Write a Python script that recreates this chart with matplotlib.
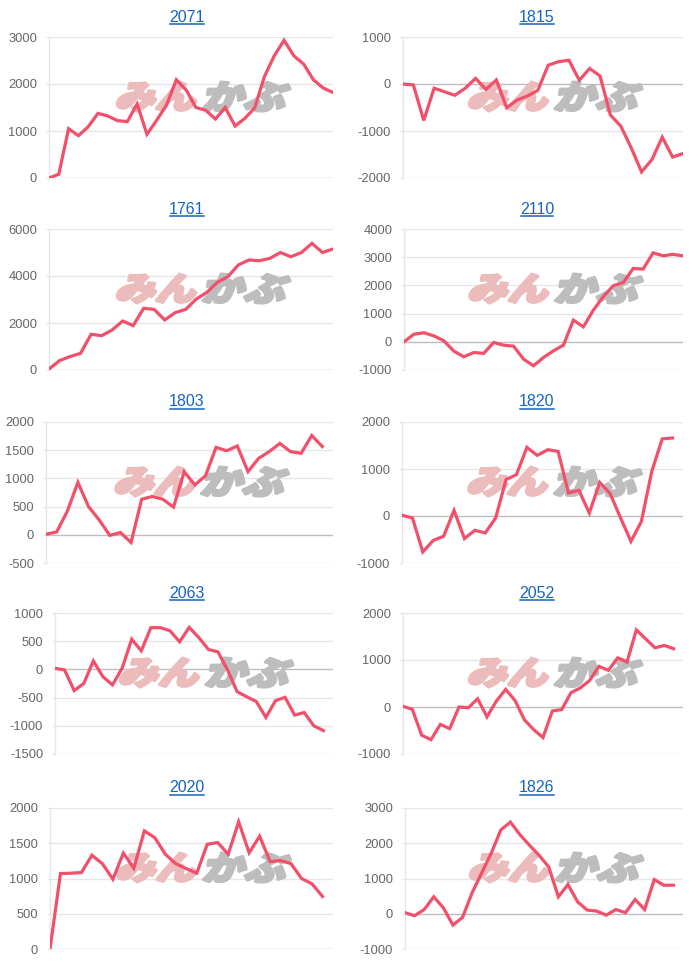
import matplotlib
matplotlib.use("Agg")
import matplotlib.pyplot as plt
from matplotlib.textpath import TextPath
from matplotlib.patches import PathPatch
from matplotlib.font_manager import FontProperties
from matplotlib.transforms import Affine2D
from matplotlib.lines import Line2D

plt.rcParams['font.family'] = ['Liberation Sans', 'DejaVu Sans']

titles = ["2071", "1815", "1761", "2110", "1803", "1820", "2063", "2052", "2020", "1826"]

# number of x slots on each chart's category axis
slots = [30, 28, 28, 29, 28, 28, 30, 31, 28, 30]

s2071 = [0, 80, 1050, 900, 1090, 1375, 1320, 1220, 1200, 1575, 930, 1230, 1550, 2090, 1875,
         1500, 1440, 1255, 1500, 1105, 1270, 1490, 2160, 2600, 2930, 2600, 2425, 2090, 1915, 1820]
s1815 = [0, -20, -775, -90, -165, -240, -90, 120, -115, 85, -505, -340, -255, -135, 400,
         475, 505, 80, 330, 170, -660, -895, -1355, -1870, -1610, -1130, -1555, -1480]
s1761 = [40, 400, 570, 710, 1520, 1460, 1700, 2085, 1890, 2625, 2580, 2130, 2440, 2580, 3020,
         3300, 3730, 3970, 4470, 4680, 4650, 4750, 5000, 4820, 5000, 5390, 5000, 5150]
s2110 = [0, 270, 320, 210, 35, -330, -530, -380, -410, -25, -120, -155, -615, -850, -555,
         -320, -120, 770, 530, 1120, 1600, 1990, 2100, 2600, 2580, 3155, 3050, 3100, 3050]
s1803 = [10, 50, 415, 930, 500, 265, -10, 40, -135, 630, 680, 630, 490, 1120, 885,
         1045, 1550, 1490, 1575, 1120, 1355, 1475, 1620, 1475, 1445, 1760, 1565]
s1820 = [15, -40, -765, -520, -430, 120, -480, -305, -360, -40, 775, 880, 1460, 1290, 1410,
         1375, 490, 545, 65, 715, 475, -40, -540, -115, 950, 1640, 1660]
s2063 = [20, -10, -375, -250, 150, -130, -275, 20, 535, 330, 740, 740, 685, 490, 745,
         565, 355, 310, -10, -395, -485, -570, -850, -555, -495, -810, -765, -1000, -1085]
s2052 = [15, -50, -600, -695, -370, -460, 0, -15, 175, -210, 125, 375, 140, -270, -480,
         -650, -85, -55, 305, 405, 565, 865, 780, 1045, 955, 1640, 1450, 1260, 1310, 1240]
s2020 = [0, 1070, 1075, 1085, 1330, 1210, 990, 1360, 1145, 1675, 1580, 1345, 1210, 1140, 1075,
         1485, 1510, 1345, 1805, 1365, 1600, 1240, 1255, 1210, 1000, 925, 745]
s1826 = [30, -55, 120, 480, 170, -320, -105, 595, 1160, 1720, 2380, 2600, 2240, 1940, 1655,
         1325, 480, 830, 340, 105, 75, -40, 120, 30, 405, 120, 970, 810, 810]

series = [s2071, s1815, s1761, s2110, s1803, s1820, s2063, s2052, s2020, s1826]

yticks = [
    [0, 1000, 2000, 3000],
    [-2000, -1000, 0, 1000],
    [0, 2000, 4000, 6000],
    [-1000, 0, 1000, 2000, 3000, 4000],
    [-500, 0, 500, 1000, 1500, 2000],
    [-1000, 0, 1000, 2000],
    [-1500, -1000, -500, 0, 500, 1000],
    [-1000, 0, 1000, 2000],
    [0, 500, 1000, 1500, 2000],
    [-1000, 0, 1000, 2000, 3000],
]

W, H = 700, 966
LINE = '#f24f6a'
GRID = '#e6e6e6'
ZERO = '#bdbdbd'
BLUE = '#1565c0'

# plot area in pixels: left, top, right, height
lefts = [49, 403, 49, 404, 46, 402, 55, 403, 50, 405]
rights = [333, 683]
tops = [37, 229, 422, 613, 808]
ph = 141

fig = plt.figure(figsize=(W / 100, H / 100), dpi=100)
fig.patch.set_facecolor('white')

wm_font = FontProperties(family=['Noto Sans CJK JP'], weight='black')


def add_logo(ax, cx, cy):
    # watermark logo: pink "みん", gray "かぶ", slanted
    parts = [("みん", '#ecbcbc', cx - 88, 84), ("かぶ", '#bdbdbd', cx - 1, 88)]
    for txt, col, x0, w in parts:
        tp = TextPath((0, 0), txt, size=1, prop=wm_font)
        ext = tp.get_extents()
        tr = (Affine2D().translate(-ext.x0, -ext.y0)
              .scale(w / ext.width * 0.93, 29 / ext.height)
              .skew_deg(16, 0)
              .translate(x0, H - cy - 14)
              .scale(1 / W, 1 / H))
        patch = PathPatch(tr.transform_path(tp), facecolor=col, edgecolor=col, lw=2.2,
                          joinstyle='round', transform=fig.transFigure, zorder=1.5)
        ax.add_patch(patch)


renderer = fig.canvas.get_renderer()

for i, (name, vals) in enumerate(zip(titles, series)):
    row, col = divmod(i, 2)
    left = lefts[i]
    right = rights[col]
    top = tops[row]
    ax = fig.add_axes([left / W, (H - top - ph) / H, (right - left) / W, ph / H])
    ax.plot(range(len(vals)), vals, color=LINE, lw=2.3, zorder=3, solid_joinstyle='miter')
    ax.set_xlim(0, slots[i] - 1)
    yt = yticks[i]
    ax.set_ylim(yt[0], yt[-1])
    ax.set_yticks(yt)
    ax.set_yticklabels([str(v) for v in yt])
    ax.set_xticks([])
    ax.tick_params(axis='y', length=2.5, width=1, color=GRID, pad=6,
                   labelsize=9.3, labelcolor='#666666')
    for v in yt:
        ax.axhline(v, color=ZERO if v == 0 else GRID, lw=1, zorder=1)
    for s in ['top', 'right', 'bottom']:
        ax.spines[s].set_visible(False)
    ax.spines['left'].set_color(GRID)
    ax.spines['left'].set_linewidth(1)

    cx = (left + right) / 2 + 12
    add_logo(ax, cx, top + 60)

    tx = 187 if col == 0 else 537
    ty = top - 20
    t = fig.text(tx / W, (H - ty) / H, name, ha='center', va='center',
                 fontsize=11.5, color=BLUE)
    bb = t.get_window_extent(renderer=renderer)
    uy = bb.y0 + 0.5
    fig.add_artist(Line2D([(bb.x0 + 1) / W, (bb.x1 - 1) / W], [uy / H, uy / H],
                          transform=fig.transFigure, color=BLUE, lw=1.1))

fig.savefig('out.png', dpi=100, facecolor='white')
